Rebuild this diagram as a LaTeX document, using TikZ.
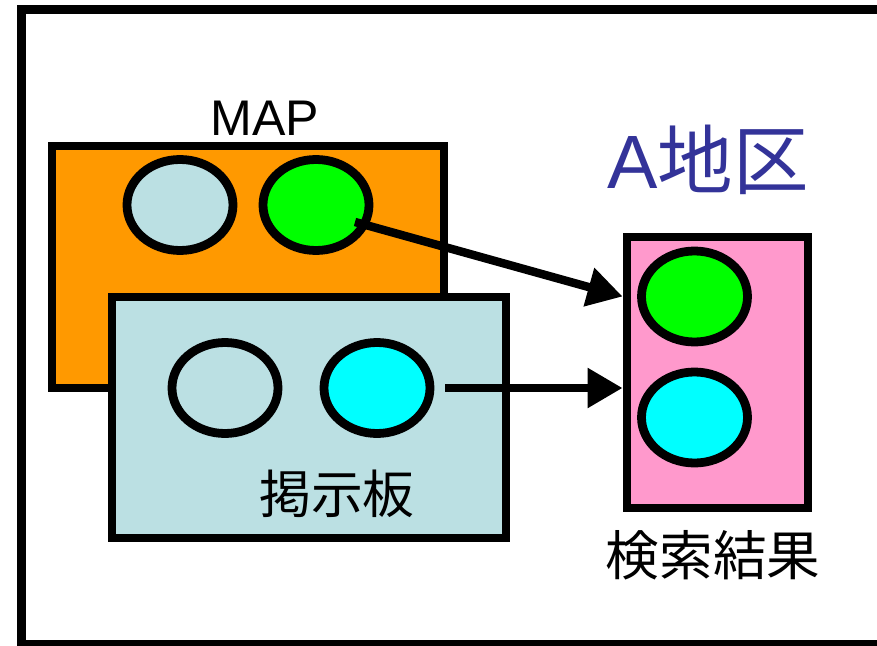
\documentclass[tikz,border=0pt]{standalone}
\usepackage{fontspec}
\setmainfont{Liberation Sans}
\newfontfamily\jpfont{Noto Sans CJK JP}
\usetikzlibrary{positioning,arrows.meta,shapes.geometric}
\definecolor{mapbg}{HTML}{FF9900}
\definecolor{boardbg}{HTML}{BBE0E3}
\definecolor{hitbg}{HTML}{FF99CC}
\definecolor{areablue}{HTML}{333399}
\definecolor{hitgreen}{HTML}{00FF00}
\definecolor{hitcyan}{HTML}{00FFFF}

\begin{document}
\begin{tikzpicture}[x=0.2mm, y=-0.2mm,
  panel/.style={draw=black, line width=5pt, inner sep=0pt},
  spot/.style={ellipse, draw=black, line width=5pt, inner sep=0pt, minimum width=21.2mm, minimum height=18.2mm},
  jp/.style={font=\jpfont\fontsize{29.5}{34}\selectfont, inner sep=0pt},
  arr/.style={-{Triangle[length=7mm, width=7.6mm]}, line width=4.8pt}]
\useasboundingbox (0,0) rectangle (877,646);
\clip (0,0) rectangle (877,646);
% outer frame, open to the right
\draw[line width=5.2pt] (21.5,9.5) rectangle (930,645);
% MAP layer
\node[panel, fill=mapbg, minimum width=78.4mm, minimum height=48.4mm] (map) at (248,267) {};
\node[spot, fill=boardbg] (map1) at (180,205) {};
\node[spot, fill=hitgreen] (map2) at (316,205) {};
\node[font=\fontsize{28.5}{34}\selectfont, inner sep=0pt] (maplbl) at (265,118) {MAP};
% board layer, on top of the map
\node[panel, fill=boardbg, minimum width=78.8mm, minimum height=48.2mm] (board) at (309,417.5) {};
\node[spot, fill=boardbg] (board1) at (225,388) {};
\node[spot, fill=hitcyan] (board2) at (377,388) {};
\node[jp] (boardlbl) at (337,494) {掲示板};
% results
\node[panel, fill=hitbg, minimum width=36.2mm, minimum height=54.2mm] (res) at (717.5,372.5) {};
\node[spot, fill=hitgreen] (res1) at (694.5,296.5) {};
\node[spot, fill=hitcyan] (res2) at (694.5,417.5) {};
\node[jp, font=\jpfont\fontsize{30.5}{36}\selectfont] (reslbl) at (713,555) {検索結果};
\node[font=\fontsize{43}{50}\selectfont, text=areablue, inner sep=0pt] (area) at (708,160) {A{\jpfont 地区}};
% arrows
\draw[arr] ([shift={(39,17)}]map2.center) -- (res.west |- res1.center);
\draw[arr] ([xshift=2.2mm]board2.east) -- (res.west |- board2.center);
\end{tikzpicture}
\end{document}
